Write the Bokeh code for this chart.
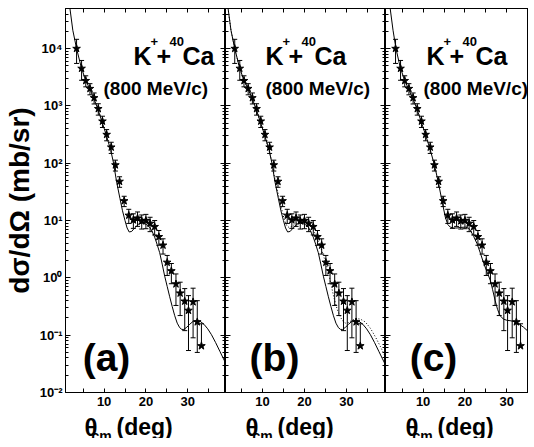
import math
from bokeh.plotting import figure
from bokeh.layouts import row, column
from bokeh.models import (ColumnDataSource, Whisker, TeeHead, FixedTicker,
                          LinearAxis, LogAxis, Label, Range1d, CustomJSTickFormatter)
from bokeh.core.properties import value
from bokeh.embed import file_html
from bokeh.resources import INLINE

# ---------------- data ----------------
theta = [3.4, 4.6, 5.6, 6.6, 7.6, 8.6, 9.6, 10.6, 11.7, 12.7, 13.7, 14.8, 15.9,
         17.0, 18.0, 19.0, 20.0, 21.0, 22.1, 23.1, 24.1, 25.1, 26.1, 27.2, 28.2,
         29.3, 30.2, 31.3, 32.3, 33.3]
xsec = [10000, 4500, 2750, 2000, 1380, 890, 540, 316, 190, 93, 48, 22, 12.3,
        10.2, 11.0, 9.8, 10.0, 8.9, 7.8, 5.2, 3.7, 1.86, 1.32, 0.78, 0.54,
        0.39, 0.27, 0.38, 0.17, 0.065]
err_up = [4500, 1700, 600, 440, 300, 200, 120, 70, 42, 20, 10, 4.5, 3.4,
          2.9, 3.1, 2.7, 2.8, 2.5, 2.2, 1.5, 1.1, 0.6, 0.46, 0.39, 0.30,
          0.26, 0.22, 0.28, 0.23, 0.093]
err_dn = [4500, 1700, 600, 440, 300, 200, 120, 70, 42, 20, 10, 4.5, 3.4,
          2.9, 3.1, 2.7, 2.8, 2.5, 2.2, 1.5, 1.1, 0.76, 0.53, 0.45, 0.32,
          0.27, 0.216, 0.29, 0.12, 0.0]

# solid curve, panels (a) and (b)
curve1_theta = [1.8, 2.5, 3.4, 4.5, 5.5, 6.6, 7.6, 8.6, 9.6, 10.6, 11.6, 12.2,
                13.0, 13.8, 14.4, 15.0, 15.5, 16.0, 16.6, 17.3, 18.3, 19.2, 20.2,
                20.9, 21.5, 22.1, 22.7, 23.3, 23.9, 24.5, 25.1, 25.7, 26.3, 26.9,
                27.5, 28.1, 28.6, 29.1, 29.8, 30.5, 31.3, 32.2, 33.0, 33.9, 34.8,
                35.7, 36.7, 37.7, 38.5, 39.3]
curve1_xsec = [51000, 20900, 10000, 4790, 2880, 1950, 1320, 832, 501, 295, 166,
               105, 46.8, 24.0, 14.8, 10.0, 7.41, 6.31, 6.46, 7.41, 8.71, 9.12,
               8.51, 7.67, 6.46, 5.13, 3.80, 2.75, 1.74, 1.07, 0.708, 0.468,
               0.316, 0.219, 0.162, 0.135, 0.126, 0.126, 0.138, 0.155, 0.174,
               0.182, 0.174, 0.155, 0.129, 0.102, 0.0741, 0.0525, 0.0398, 0.0302]

# dotted curve, panel (b)
curve2_theta = [1.8, 2.5, 3.4, 4.5, 5.5, 6.6, 7.6, 8.6, 9.6, 10.6, 11.6, 12.2,
                13.0, 13.8, 14.5, 15.2, 15.8, 16.3, 17.0, 18.0, 19.0, 20.0, 20.8,
                21.4, 22.0, 22.6, 23.2, 23.8, 24.6, 25.4, 26.2, 27.0, 27.8, 28.6,
                29.2, 29.8, 30.5, 31.3, 32.2, 33.3, 34.5, 35.7, 36.9, 38.1, 39.3]
curve2_xsec = [51000, 20900, 10000, 4790, 2880, 1950, 1320, 832, 501, 295, 166,
               108, 50.1, 28.2, 16.6, 10.5, 8.13, 7.59, 7.94, 8.91, 9.44, 9.44,
               9.02, 8.32, 7.24, 5.75, 4.57, 3.55, 2.34, 1.55, 0.851, 0.457,
               0.282, 0.204, 0.174, 0.162, 0.166, 0.182, 0.195, 0.191, 0.170,
               0.132, 0.0933, 0.0631, 0.0417]

# solid curve, panel (c)
curve3_theta = [2.1, 2.8, 3.5, 4.5, 5.5, 6.6, 7.6, 8.6, 9.6, 10.6, 11.6, 12.7,
                13.6, 14.3, 15.3, 15.9, 16.5, 17.3, 18.1, 19.0, 20.1, 20.8, 21.3,
                22.1, 22.9, 23.7, 24.5, 25.3, 26.1, 26.6, 27.2, 27.8, 28.4, 29.2,
                30.0, 31.0, 32.0, 33.0, 34.0, 35.2, 36.4, 37.8]
curve3_xsec = [51300, 20900, 10000, 4790, 2880, 1910, 1320, 851, 513, 309, 182,
               93.3, 47.9, 26.3, 11.5, 8.51, 7.67, 7.41, 7.41, 7.59, 7.67, 7.41,
               6.76, 5.25, 3.94, 2.69, 1.78, 1.26, 0.891, 0.631, 0.407, 0.282,
               0.219, 0.191, 0.182, 0.178, 0.170, 0.155, 0.138, 0.115, 0.0933,
               0.0617]

x_major = [10, 20, 30]
x_minor = [5, 15, 25, 35]
y_major = [1e-2, 1e-1, 1e0, 1e1, 1e2, 1e3, 1e4]
y_labels = ["10⁻²", "10⁻¹", "10⁰", "10¹", "10²", "10³", "10⁴"]
y_minor = [m * 10.0 ** k for k in range(-2, 5) for m in range(2, 10)]

# "K⁺+⁴⁰Ca" written as normal / superscript pieces
reaction_parts = ["K", "+", "+", "40", "Ca"]
reaction_is_sup = [False, True, False, True, False]
momentum = "(800 MeV/c)"
panel_tags = ["(a)", "(b)", "(c)"]
x_title_main = ["θ", "(deg)"]
x_title_sub = "cm"

SANS = "Liberation Sans"
REACTION_OFFSETS = [0, 17, 23, 36, 49]   # px from the label's left edge
BIG, SMALL, RAISE = 25, 13, 14
YMIN, YMAX = 1e-2, 5e4
FRAME_H = 384
LEFT_BORDER = 54
TOP_BORDER = 8
BOTTOM_BORDER = 19

src = ColumnDataSource(dict(
    x=theta, y=xsec,
    upper=[v + e for v, e in zip(xsec, err_up)],
    lower=[v - e if v - e > 0 else v for v, e in zip(xsec, err_dn)],
))

blank = CustomJSTickFormatter(code="return '';")


def make_panel(frame_w, xr, first, tag, k_pos, m_pos, tag_pos, curves, right_axis=True):
    x0, x1 = xr

    def dx(px):
        return x0 + px * (x1 - x0) / frame_w

    def dy(px):
        lo, hi = math.log10(YMIN), math.log10(YMAX)
        return 10 ** (lo + px * (hi - lo) / FRAME_H)

    p = figure(frame_width=frame_w, frame_height=FRAME_H,
               x_range=Range1d(x0, x1), y_range=Range1d(YMIN, YMAX),
               y_axis_type="log", output_backend="svg", toolbar_location=None,
               min_border_left=LEFT_BORDER if first else 0, min_border_right=0,
               min_border_top=TOP_BORDER, min_border_bottom=BOTTOM_BORDER)
    p.grid.visible = False
    p.outline_line_color = "black"
    p.outline_line_width = 1
    p.background_fill_color = "white"
    p.border_fill_color = "white"

    xt = FixedTicker(ticks=x_major, minor_ticks=x_minor)
    yt = FixedTicker(ticks=y_major, minor_ticks=y_minor)

    xa = p.xaxis[0]
    xa.ticker = xt
    xa.major_tick_in = 4
    xa.major_tick_out = 0
    xa.minor_tick_in = 4
    xa.minor_tick_out = 0
    xa.axis_line_color = "black"
    xa.major_label_text_font = SANS
    xa.major_label_text_font_style = "bold"
    xa.major_label_text_font_size = "13px"
    xa.major_label_text_color = "black"
    xa.major_label_standoff = 4

    ya = p.yaxis[0]
    ya.ticker = yt
    ya.major_tick_in = 5
    ya.major_tick_out = 0
    ya.minor_tick_in = 3
    ya.minor_tick_out = 0
    ya.axis_line_color = "black"
    if first:
        ya.major_label_overrides = {v: s for v, s in zip(y_major, y_labels)}
        ya.major_label_text_font = SANS
        ya.major_label_text_font_style = "bold"
        ya.major_label_text_font_size = "13px"
        ya.major_label_text_color = "black"
        ya.major_label_standoff = 3
        ya.axis_label = "dσ/dΩ (mb/sr)"
        ya.axis_label_text_font = SANS
        ya.axis_label_text_font_style = "bold"
        ya.axis_label_text_font_size = "28px"
        ya.axis_label_text_color = "black"
        ya.axis_label_standoff = 2
    else:
        ya.formatter = blank
        ya.major_label_text_font_size = "1px"
        ya.major_label_standoff = 0

    top = LinearAxis(ticker=xt, formatter=blank, major_tick_in=4, major_tick_out=0,
                     minor_tick_in=4, minor_tick_out=0,
                     major_label_text_font_size="1px", major_label_standoff=0)
    p.add_layout(top, "above")
    if right_axis:
        rt = LogAxis(ticker=yt, formatter=blank, major_tick_in=5, major_tick_out=0,
                     minor_tick_in=3, minor_tick_out=0,
                     major_label_text_font_size="1px", major_label_standoff=0)
        p.add_layout(rt, "right")

    for cx, cy, dash in curves:
        p.line(cx, cy, line_color="black", line_width=1, line_dash=dash)

    wh = Whisker(source=src, base="x", upper="upper", lower="lower",
                 line_color="black", line_width=1,
                 upper_head=TeeHead(size=5, line_width=1, line_color="black"),
                 lower_head=TeeHead(size=5, line_width=1, line_color="black"))
    p.add_layout(wh)
    p.scatter("x", "y", source=src, marker="star", size=8,
              fill_color="black", line_color="black")

    def lab(px, py, text, size, align="left"):
        p.add_layout(Label(x=dx(px), y=dy(py), text=text, text_font=SANS,
                           text_font_style="bold", text_font_size=f"{size}px",
                           text_color="black", text_align=align,
                           text_baseline="alphabetic"))

    # reaction label, built from normal and raised (superscript) pieces
    for txt, sup, off in zip(reaction_parts, reaction_is_sup, REACTION_OFFSETS):
        lab(k_pos[0] + off, k_pos[1] + (RAISE if sup else 0), txt,
            SMALL if sup else BIG)
    lab(m_pos[0], m_pos[1], momentum, 19)
    lab(tag_pos[0], tag_pos[1], tag, 39, "center")
    return p


solid1 = (curve1_theta, curve1_xsec, "solid")
dotted2 = (curve2_theta, curve2_xsec, "1 2")
solid3 = (curve3_theta, curve3_xsec, "solid")

p1 = make_panel(160, (0.75, 39.06), True, panel_tags[0],
                (68, 337), (38, 304), (41, 35), [solid1])
p2 = make_panel(160, (1.2, 39.3), False, panel_tags[1],
                (40, 337), (40, 304), (49, 35), [solid1, dotted2])
p3 = make_panel(143, (1.0, 35.2), False, panel_tags[2],
                (41, 337), (38, 304), (48, 35), [solid3], right_axis=False)

# strip below the panels holding the x-axis titles  θ_cm(deg)
STRIP_W, STRIP_H = 526, 36
frame_lefts = [LEFT_BORDER, LEFT_BORDER + 161, LEFT_BORDER + 321]
q = figure(width=STRIP_W, height=STRIP_H, x_range=Range1d(0, STRIP_W),
           y_range=Range1d(STRIP_H, 0), output_backend="svg",
           toolbar_location=None, x_axis_location=None, y_axis_location=None,
           min_border=0)
q.margin = (-9, 0, 0, 0)
q.grid.visible = False
q.outline_line_color = None
q.background_fill_color = None
q.border_fill_color = None
q.text(x=[fl + 30 for fl in frame_lefts], y=[25] * 3, text=[x_title_main[0]] * 3,
       text_font=value(SANS), text_font_style="bold", text_font_size=value("24px"),
       text_color="black", text_baseline="alphabetic", text_align="left")
q.text(x=[fl + 37 for fl in frame_lefts], y=[33] * 3, text=[x_title_sub] * 3,
       text_font=value(SANS), text_font_style="bold", text_font_size=value("14px"),
       text_color="black", text_baseline="alphabetic", text_align="left")
q.text(x=[fl + 62 for fl in frame_lefts], y=[24] * 3, text=[x_title_main[1]] * 3,
       text_font=value(SANS), text_font_style="bold", text_font_size=value("23px"),
       text_color="black", text_baseline="alphabetic", text_align="left")

layout = column(row(p1, p2, p3, spacing=0), q, spacing=0)
open("out.html", "w").write(file_html(layout, INLINE))
